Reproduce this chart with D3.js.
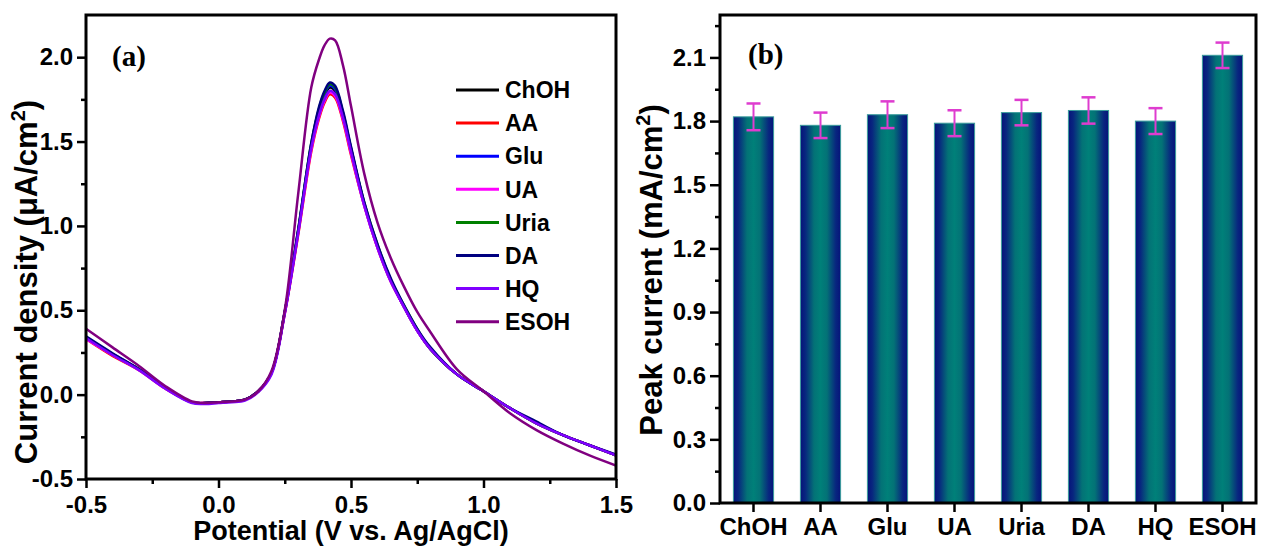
<!DOCTYPE html>
<html>
<head>
<meta charset="utf-8">
<script src="https://cdn.jsdelivr.net/npm/d3@7"></script>
<style>
  body { margin: 0; background: #fff; }
  svg text { font-family: "Liberation Sans", Arial, sans-serif; font-weight: bold; fill: #000; }
</style>
</head>
<body>
<div id="chart"></div>
<script>
// ---- data ----
const potential = [-0.5, -0.4, -0.3, -0.2, -0.1, -0.05, 0, 0.05, 0.1, 0.15, 0.2, 0.25, 0.3, 0.35, 0.38, 0.4, 0.42, 0.44, 0.47, 0.5, 0.55, 0.6, 0.65, 0.7, 0.75, 0.8, 0.9, 1.0, 1.1, 1.2, 1.3, 1.4, 1.5];

const chohCurve = [0.34, 0.24, 0.15, 0.04, -0.045, -0.05, -0.045, -0.04, -0.03, 0.02, 0.13, 0.49, 0.96, 1.47, 1.68, 1.77, 1.82, 1.80, 1.65, 1.45, 1.13, 0.88, 0.68, 0.52, 0.38, 0.27, 0.12, 0.02, -0.08, -0.17, -0.24, -0.30, -0.36];
const aaCurve = [0.33, 0.23, 0.145, 0.035, -0.045, -0.05, -0.045, -0.04, -0.03, 0.02, 0.13, 0.48, 0.94, 1.44, 1.64, 1.73, 1.78, 1.76, 1.62, 1.42, 1.12, 0.87, 0.67, 0.52, 0.38, 0.27, 0.12, 0.02, -0.08, -0.17, -0.24, -0.30, -0.36];
const gluCurve = [0.34, 0.24, 0.15, 0.04, -0.045, -0.05, -0.045, -0.04, -0.03, 0.02, 0.13, 0.49, 0.96, 1.48, 1.69, 1.78, 1.83, 1.81, 1.66, 1.46, 1.13, 0.88, 0.68, 0.52, 0.38, 0.27, 0.12, 0.02, -0.08, -0.17, -0.24, -0.30, -0.36];
const uaCurve = [0.33, 0.235, 0.145, 0.035, -0.045, -0.05, -0.045, -0.04, -0.03, 0.02, 0.13, 0.48, 0.95, 1.45, 1.65, 1.74, 1.79, 1.77, 1.63, 1.43, 1.12, 0.87, 0.67, 0.52, 0.38, 0.27, 0.12, 0.02, -0.08, -0.17, -0.24, -0.30, -0.36];
const uriaCurve = [0.34, 0.24, 0.15, 0.04, -0.045, -0.05, -0.045, -0.04, -0.03, 0.02, 0.13, 0.49, 0.97, 1.49, 1.70, 1.79, 1.84, 1.82, 1.67, 1.46, 1.14, 0.89, 0.68, 0.53, 0.39, 0.27, 0.12, 0.02, -0.08, -0.17, -0.24, -0.30, -0.36];
const daCurve = [0.345, 0.245, 0.15, 0.04, -0.045, -0.05, -0.045, -0.04, -0.03, 0.02, 0.13, 0.49, 0.97, 1.49, 1.71, 1.80, 1.85, 1.83, 1.68, 1.47, 1.14, 0.89, 0.69, 0.53, 0.39, 0.28, 0.12, 0.02, -0.08, -0.16, -0.24, -0.30, -0.355];
const hqCurve = [0.335, 0.235, 0.145, 0.035, -0.05, -0.055, -0.05, -0.045, -0.035, 0.015, 0.12, 0.48, 0.95, 1.46, 1.66, 1.75, 1.80, 1.78, 1.64, 1.44, 1.12, 0.87, 0.67, 0.52, 0.38, 0.27, 0.12, 0.02, -0.08, -0.17, -0.24, -0.30, -0.36];
const esohCurve = [0.39, 0.28, 0.17, 0.05, -0.04, -0.05, -0.045, -0.04, -0.03, 0.02, 0.14, 0.50, 1.18, 1.82, 1.99, 2.07, 2.11, 2.10, 1.95, 1.71, 1.31, 1.02, 0.81, 0.64, 0.49, 0.37, 0.15, 0.02, -0.11, -0.21, -0.29, -0.36, -0.42];

const seriesNames = ['ChOH', 'AA', 'Glu', 'UA', 'Uria', 'DA', 'HQ', 'ESOH'];
const seriesColors = ['#000000', '#ff0000', '#0000ff', '#ff00ff', '#008000', '#000080', '#8000ff', '#800080'];
const seriesCurves = [chohCurve, aaCurve, gluCurve, uaCurve, uriaCurve, daCurve, hqCurve, esohCurve];

const barCategories = ['ChOH', 'AA', 'Glu', 'UA', 'Uria', 'DA', 'HQ', 'ESOH'];
const peakCurrent = [1.82, 1.78, 1.83, 1.79, 1.84, 1.85, 1.80, 2.11];
const peakError = [0.063, 0.06, 0.063, 0.061, 0.06, 0.062, 0.061, 0.06];

const xTicksA = [-0.5, 0, 0.5, 1.0, 1.5];
const xMinorA = [-0.25, 0.25, 0.75, 1.25];
const yTicksA = [-0.5, 0, 0.5, 1.0, 1.5, 2.0];
const yMinorA = [-0.25, 0.25, 0.75, 1.25, 1.75];
const yTicksB = [0, 0.3, 0.6, 0.9, 1.2, 1.5, 1.8, 2.1];
const yMinorB = [0.15, 0.45, 0.75, 1.05, 1.35, 1.65, 1.95, 2.25];

const W = 1262, H = 548;
const fmt = d => d.toFixed(1);

const svg = d3.select('#chart').append('svg')
  .attr('width', W)
  .attr('height', H);

// ================= panel (a) =================
const pa = { left: 86, right: 616, top: 15, bottom: 479 };
const xA = d3.scaleLinear().domain([-0.5, 1.5]).range([pa.left, pa.right]);
const yA = d3.scaleLinear().domain([-0.5, 2.25]).range([pa.bottom, pa.top]);

const gA = svg.append('g');

gA.append('defs').append('clipPath').attr('id', 'clipA')
  .append('rect')
  .attr('x', pa.left).attr('y', pa.top)
  .attr('width', pa.right - pa.left).attr('height', pa.bottom - pa.top);

const line = d3.line()
  .x(d => xA(d[0]))
  .y(d => yA(d[1]))
  .curve(d3.curveCatmullRom.alpha(0.5));

gA.append('g')
  .attr('clip-path', 'url(#clipA)')
  .selectAll('path')
  .data(seriesCurves)
  .enter()
  .append('path')
  .attr('fill', 'none')
  .attr('stroke', (d, i) => seriesColors[i])
  .attr('stroke-width', 2.5)
  .attr('stroke-linejoin', 'round')
  .attr('d', d => line(potential.map((p, i) => [p, d[i]])));

function styleAxis(g, fontSize) {
  g.select('.domain').remove();
  g.selectAll('.tick line').attr('stroke', '#000').attr('stroke-width', 2.5);
  g.selectAll('.tick text')
    .style('font-size', fontSize + 'px')
    .style('font-family', '"Liberation Sans", Arial, sans-serif')
    .style('font-weight', 'bold')
    .attr('fill', '#000');
}

// x axis (a)
gA.append('g')
  .attr('transform', `translate(0,${pa.bottom})`)
  .call(d3.axisBottom(xA).tickValues(xTicksA).tickFormat(fmt).tickSize(9).tickPadding(8))
  .call(g => styleAxis(g, 24));
gA.append('g')
  .attr('transform', `translate(0,${pa.bottom})`)
  .call(d3.axisBottom(xA).tickValues(xMinorA).tickFormat('').tickSize(5))
  .call(g => styleAxis(g, 24));

// y axis (a)
gA.append('g')
  .attr('transform', `translate(${pa.left},0)`)
  .call(d3.axisLeft(yA).tickValues(yTicksA).tickFormat(fmt).tickSize(9).tickPadding(4))
  .call(g => styleAxis(g, 24));
gA.append('g')
  .attr('transform', `translate(${pa.left},0)`)
  .call(d3.axisLeft(yA).tickValues(yMinorA).tickFormat('').tickSize(5))
  .call(g => styleAxis(g, 24));

gA.append('rect')
  .attr('x', pa.left).attr('y', pa.top)
  .attr('width', pa.right - pa.left).attr('height', pa.bottom - pa.top)
  .attr('fill', 'none').attr('stroke', '#000').attr('stroke-width', 3);

// labels (a)
gA.append('text')
  .attr('x', (pa.left + pa.right) / 2)
  .attr('y', 540)
  .attr('text-anchor', 'middle')
  .style('font-size', '27px')
  .text('Potential (V vs. Ag/AgCl)');

const ylabA = gA.append('text')
  .attr('transform', 'translate(37,282) rotate(-90)')
  .attr('text-anchor', 'middle')
  .style('font-size', '31px');
ylabA.append('tspan').text('Current density (μA/cm');
ylabA.append('tspan').attr('dy', -12).style('font-size', '20px').text('2');
ylabA.append('tspan').attr('dy', 12).text(')');

gA.append('text')
  .attr('x', 112).attr('y', 66)
  .style('font-family', '"Liberation Serif", "Times New Roman", serif')
  .style('font-size', '29px')
  .text('(a)');

// legend
const legend = gA.append('g').attr('transform', 'translate(456,90)');
const legendRow = legend.selectAll('g')
  .data(seriesNames)
  .enter()
  .append('g')
  .attr('transform', (d, i) => `translate(0,${i * 33.1})`);
legendRow.append('line')
  .attr('x1', 0).attr('x2', 43)
  .attr('stroke', (d, i) => seriesColors[i])
  .attr('stroke-width', 3);
legendRow.append('text')
  .attr('x', 49)
  .attr('dy', '0.36em')
  .style('font-size', '23px')
  .text(d => d);

// ================= panel (b) =================
const pb = { left: 720, right: 1256, top: 15, bottom: 503 };
const xB = d3.scaleBand().domain(barCategories).range([pb.left, pb.right]).paddingInner(0.4).paddingOuter(0.2);
const yB = d3.scaleLinear().domain([0, 2.3]).range([pb.bottom, pb.top]);

const gB = svg.append('g');

const grad = gB.append('defs').append('linearGradient')
  .attr('id', 'barGrad')
  .attr('x1', '0%').attr('x2', '100%').attr('y1', '0%').attr('y2', '0%');
[[0, '#06137a'], [0.12, '#08267f'], [0.34, '#037276'], [0.5, '#008079'], [0.66, '#037276'], [0.88, '#08267f'], [1, '#06137a']]
  .forEach(s => grad.append('stop').attr('offset', s[0]).attr('stop-color', s[1]));

const data = barCategories.map((c, i) => ({ cat: c, v: peakCurrent[i], e: peakError[i] }));

gB.selectAll('rect.bar')
  .data(data)
  .enter()
  .append('rect')
  .attr('class', 'bar')
  .attr('x', d => xB(d.cat))
  .attr('y', d => yB(d.v))
  .attr('width', xB.bandwidth())
  .attr('height', d => yB(0) - yB(d.v))
  .attr('fill', 'url(#barGrad)')
  .attr('stroke', '#3a9c9c')
  .attr('stroke-width', 1);

// error bars
const errColor = '#de3ccf';
const errG = gB.selectAll('g.err')
  .data(data)
  .enter()
  .append('g')
  .attr('class', 'err')
  .attr('transform', d => `translate(${xB(d.cat) + xB.bandwidth() / 2},0)`);
errG.append('line')
  .attr('y1', d => yB(d.v + d.e)).attr('y2', d => yB(d.v - d.e))
  .attr('stroke', errColor).attr('stroke-width', 2);
errG.append('line')
  .attr('x1', -7).attr('x2', 7)
  .attr('y1', d => yB(d.v + d.e)).attr('y2', d => yB(d.v + d.e))
  .attr('stroke', errColor).attr('stroke-width', 2.5);
errG.append('line')
  .attr('x1', -7).attr('x2', 7)
  .attr('y1', d => yB(d.v - d.e)).attr('y2', d => yB(d.v - d.e))
  .attr('stroke', errColor).attr('stroke-width', 2.5);

// axes (b)
gB.append('g')
  .attr('transform', `translate(0,${pb.bottom})`)
  .call(d3.axisBottom(xB).tickSize(9).tickPadding(6))
  .call(g => styleAxis(g, 24));

gB.append('g')
  .attr('transform', `translate(${pb.left},0)`)
  .call(d3.axisLeft(yB).tickValues(yTicksB).tickFormat(fmt).tickSize(10).tickPadding(4))
  .call(g => styleAxis(g, 24));
gB.append('g')
  .attr('transform', `translate(${pb.left},0)`)
  .call(d3.axisLeft(yB).tickValues(yMinorB).tickFormat('').tickSize(5))
  .call(g => styleAxis(g, 24));

gB.append('rect')
  .attr('x', pb.left).attr('y', pb.top)
  .attr('width', pb.right - pb.left).attr('height', pb.bottom - pb.top)
  .attr('fill', 'none').attr('stroke', '#000').attr('stroke-width', 3);

const ylabB = gB.append('text')
  .attr('transform', 'translate(662,270) rotate(-90)')
  .attr('text-anchor', 'middle')
  .style('font-size', '31px');
ylabB.append('tspan').text('Peak current (mA/cm');
ylabB.append('tspan').attr('dy', -12).style('font-size', '20px').text('2');
ylabB.append('tspan').attr('dy', 12).text(')');

gB.append('text')
  .attr('x', 748).attr('y', 64)
  .style('font-family', '"Liberation Serif", "Times New Roman", serif')
  .style('font-size', '29px')
  .text('(b)');
</script>
</body>
</html>
